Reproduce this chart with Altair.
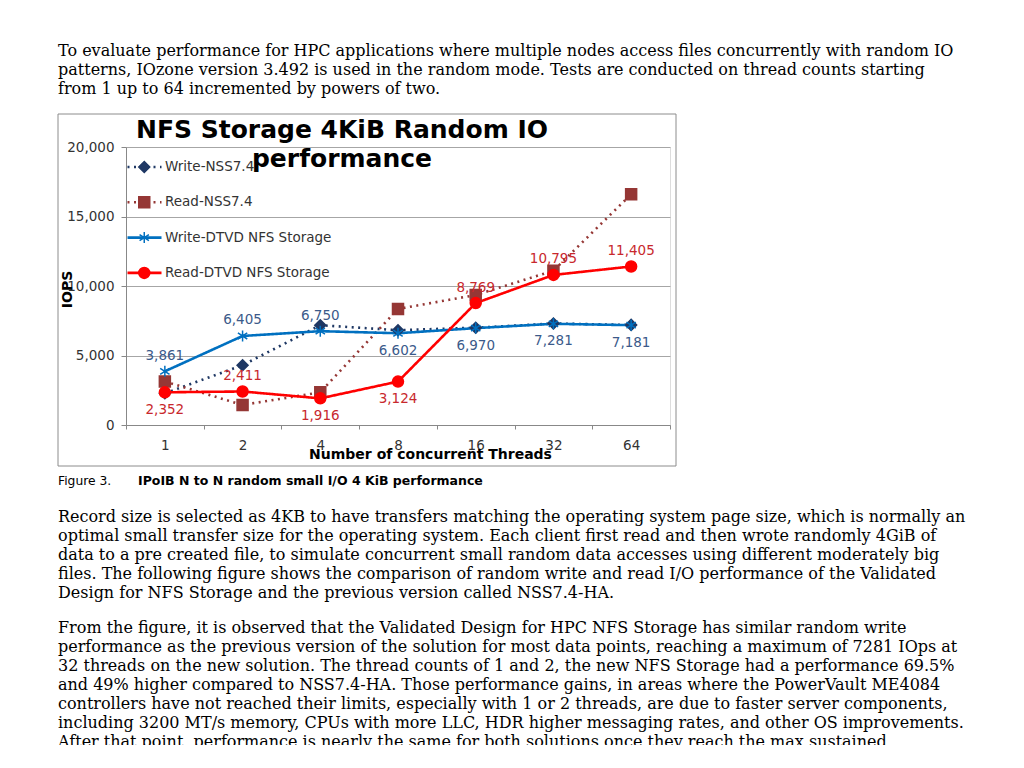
import altair as alt
import pandas as pd

# ---------------- data ----------------
threads = ["1", "2", "4", "8", "16", "32", "64"]
series_names = ["Write-NSS7.4", "Read-NSS7.4", "Write-DTVD NFS Storage", "Read-DTVD NFS Storage"]
write_nss = [2280, 4300, 7180, 6820, 7000, 7300, 7200]
read_nss = [3130, 1440, 2350, 8350, 9350, 11100, 16600]
write_dtvd = [3861, 6405, 6750, 6602, 6970, 7281, 7181]
read_dtvd = [2352, 2411, 1916, 3124, 8769, 10795, 11405]
write_label_side = ["above", "above", "above", "below", "below", "below", "below"]
read_label_side = ["below", "above", "below", "below", "above", "above", "above"]
y_ticks = [0, 5000, 10000, 15000, 20000]

chart_title = ["NFS Storage 4KiB Random IO", "performance"]
x_title = "Number of concurrent Threads"
y_title = "IOPS"
caption_num = "Figure 3."
caption_text = "IPoIB N to N random small I/O 4 KiB performance"
para_top = [
    "To evaluate performance for HPC applications where multiple nodes access files concurrently with random IO",
    "patterns, IOzone version 3.492 is used in the random mode. Tests are conducted on thread counts starting",
    "from 1 up to 64 incremented by powers of two.",
]
para_1 = [
    "Record size is selected as 4KB to have transfers matching the operating system page size, which is normally an",
    "optimal small transfer size for the operating system. Each client first read and then wrote randomly 4GiB of",
    "data to a pre created file, to simulate concurrent small random data accesses using different moderately big",
    "files. The following figure shows the comparison of random write and read I/O performance of the Validated",
    "Design for NFS Storage and the previous version called NSS7.4-HA.",
]
para_2 = [
    "From the figure, it is observed that the Validated Design for HPC NFS Storage has similar random write",
    "performance as the previous version of the solution for most data points, reaching a maximum of 7281 IOps at",
    "32 threads on the new solution. The thread counts of 1 and 2, the new NFS Storage had a performance 69.5%",
    "and 49% higher compared to NSS7.4-HA. Those performance gains, in areas where the PowerVault ME4084",
    "controllers have not reached their limits, especially with 1 or 2 threads, are due to faster server components,",
    "including 3200 MT/s memory, CPUs with more LLC, HDR higher messaging rates, and other OS improvements.",
    "After that point, performance is nearly the same for both solutions once they reach the max sustained",
]

# ---------------- tables ----------------
rows = []
for name, vals in zip(series_names, [write_nss, read_nss, write_dtvd, read_dtvd]):
    for t, v in zip(threads, vals):
        rows.append({"series": name, "threads": t, "iops": v})
df = pd.DataFrame(rows)

lab_rows = []
for name, vals, sides in [(series_names[2], write_dtvd, write_label_side),
                          (series_names[3], read_dtvd, read_label_side)]:
    for t, v, s in zip(threads, vals, sides):
        lab_rows.append({"series": name, "threads": t, "iops": v, "side": s})
labels = pd.DataFrame(lab_rows)

# ---------------- styles ----------------
SANS = "DejaVu Sans"
SERIF = "DejaVu Serif"
line_colors = ["#1f3864", "#953735", "#0070c0", "#ff0000"]
asterisk = "M0,-1L0,1M-0.85,-0.55L0.85,0.55M-0.85,0.55L0.85,-0.55"
shapes = ["diamond", "square", asterisk, "circle"]
dashes = [[2, 4.5], [2, 4.5], [1, 0], [1, 0]]
write_lab_color = "#3b5a8a"
read_lab_color = "#c8282d"

color_scale = alt.Scale(domain=series_names, range=line_colors)

x_enc = alt.X(
    "threads:O", sort=threads, title=x_title,
    scale=alt.Scale(type="band", paddingInner=0, paddingOuter=0),
    axis=alt.Axis(
        tickBand="extent", labelAngle=0, labelFont=SANS, labelFontSize=13.5,
        labelColor="#333333", tickSize=4, tickColor="#888888", domainColor="#888888",
        labelPadding=9, grid=False,
        titleFont=SANS, titleFontSize=14, titleFontWeight="bold", titleColor="#000000",
        titleX=304, titleY=33, titleAlign="center", titleBaseline="alphabetic",
    ),
)
y_enc = alt.Y(
    "iops:Q", title=y_title,
    scale=alt.Scale(domain=[0, 20000], nice=False),
    axis=alt.Axis(
        values=y_ticks, format=",.0f", labelFont=SANS, labelFontSize=13.5,
        labelColor="#333333", tickSize=5, tickColor="#888888", domainColor="#888888",
        labelPadding=7, gridColor="#a6a6a6", gridWidth=1,
        titleFont=SANS, titleFontSize=14, titleFontWeight="bold", titleColor="#000000",
        titleAngle=270, titleX=-55, titleY=142, titleAlign="center", titleBaseline="alphabetic",
    ),
)

leg_line = alt.Legend(
    orient="none", legendX=0, legendY=2.5, title=None, padding=0,
    symbolType="stroke", symbolSize=1156, symbolStrokeWidth=2.6,
    clipHeight=35, rowPadding=0.3, labelOffset=2,
    labelFont=SANS, labelFontSize=13.5, labelColor="#333333", labelLimit=400,
)
leg_point = alt.Legend(
    orient="none", legendX=11.5, legendY=2.5, title=None, padding=0,
    symbolSize=121, symbolStrokeWidth=1.5, symbolOpacity=1,
    clipHeight=35, rowPadding=0.3, labelOffset=2,
    labelFont=SANS, labelFontSize=13.5, labelOpacity=0, labelLimit=400,
)

lines = alt.Chart(df).mark_line(strokeWidth=2.6).encode(
    x=x_enc, y=y_enc,
    color=alt.Color("series:N", scale=color_scale, legend=leg_line),
    strokeDash=alt.StrokeDash("series:N", scale=alt.Scale(domain=series_names, range=dashes), legend=leg_line),
    strokeWidth=alt.condition(
        alt.FieldOneOfPredicate(field="series", oneOf=series_names[:2]), alt.value(2), alt.value(2.8)
    ),
)

points = alt.Chart(df).mark_point(filled=True, size=121, opacity=1, strokeWidth=1.5).encode(
    x=x_enc, y=y_enc,
    color=alt.Color("series:N", scale=color_scale, legend=leg_point),
    shape=alt.Shape("series:N", scale=alt.Scale(domain=series_names, range=shapes), legend=leg_point),
    stroke=alt.Stroke("series:N", scale=alt.Scale(domain=series_names, range=line_colors), legend=leg_point),
)

lab_color = alt.condition(alt.datum.series == series_names[3], alt.value(read_lab_color), alt.value(write_lab_color))
lab_above = alt.Chart(labels).transform_filter(alt.datum.side == "above").mark_text(
    font=SANS, fontSize=13.5, dy=-15.5, baseline="middle"
).encode(x=x_enc, y=y_enc, text=alt.Text("iops:Q", format=","), color=lab_color)
lab_below = alt.Chart(labels).transform_filter(alt.datum.side == "below").mark_text(
    font=SANS, fontSize=13.5, dy=17.5, baseline="middle"
).encode(x=x_enc, y=y_enc, text=alt.Text("iops:Q", format=","), color=lab_color)

one = pd.DataFrame({"k": [0]})
frame = alt.Chart(one).mark_rect(fill=None, stroke="#8c8c8c", strokeWidth=1).encode(
    x=alt.value(-68), x2=alt.value(550), y=alt.value(-33), y2=alt.value(319)
)
title_mark = alt.Chart(one).mark_text(
    text=chart_title, font=SANS, fontSize=25, fontWeight="bold", lineHeight=28.5,
    align="center", baseline="alphabetic", color="#000000"
).encode(x=alt.value(216), y=alt.value(-9))

def para(lines_, y):
    return alt.Chart(one).mark_text(
        text=lines_, font=SERIF, fontSize=16, lineHeight=18.95,
        align="left", baseline="alphabetic", color="#000000"
    ).encode(x=alt.value(-68), y=alt.value(y))

top_text = para(para_top, -90.8)
p1_text = para(para_1, 375.0)
p2_text = para(para_2, 486.0)
cap1 = alt.Chart(one).mark_text(
    text=caption_num, font=SANS, fontSize=12.3, align="left", baseline="alphabetic", color="#000000"
).encode(x=alt.value(-68), y=alt.value(338))
cap2 = alt.Chart(one).mark_text(
    text=caption_text, font=SANS, fontSize=12.5, fontWeight="bold", align="left",
    baseline="alphabetic", color="#000000"
).encode(x=alt.value(12), y=alt.value(338))

chart = alt.layer(
    frame, lines, points, lab_above, lab_below, title_mark,
    top_text, p1_text, p2_text, cap1, cap2
).resolve_legend(
    color="independent", strokeDash="independent", shape="independent", stroke="independent"
).properties(
    width=544, height=278,
    autosize=alt.AutoSizeParams(type="none"),
    padding={"left": 118, "top": 139, "right": 346, "bottom": 320},
).configure_view(stroke=None).configure(font=SANS)

chart.save("out.html", embed_options={"renderer": "svg", "actions": False})
